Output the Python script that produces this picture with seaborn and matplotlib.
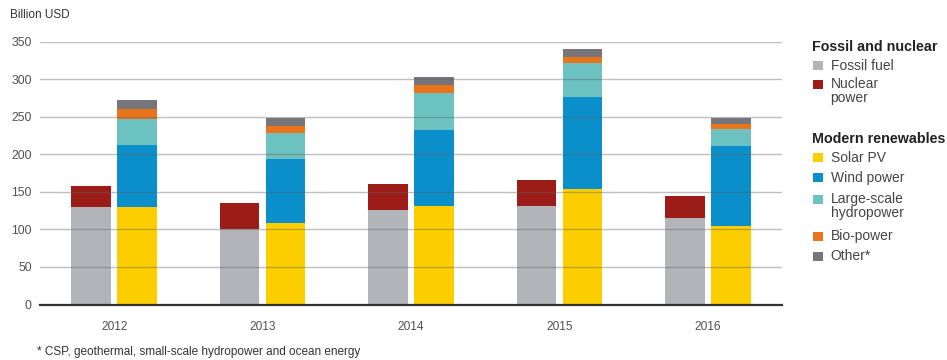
import numpy as np
import pandas as pd
import matplotlib
matplotlib.use("Agg")
import matplotlib.pyplot as plt
from matplotlib.patches import Rectangle
import seaborn as sns

years = ["2012", "2013", "2014", "2015", "2016"]
fossil_fuel = [130, 100, 126, 131, 115]
nuclear = [28, 35, 34, 35, 30]
solar_pv = [130, 109, 131, 154, 104]
wind = [83, 85, 102, 123, 107]
hydro = [34, 34, 49, 45, 23]
bio = [14, 10, 10, 7, 7]
other = [12, 10, 11, 11, 7]

groups = ["Fossil and nuclear", "Modern renewables"]
fossil_series = [("Fossil fuel", fossil_fuel, "#b2b4ba"), ("Nuclear\npower", nuclear, "#9c1c17")]
renew_series = [("Solar PV", solar_pv, "#fcce00"), ("Wind power", wind, "#0b8fca"),
                ("Large-scale\nhydropower", hydro, "#6cc2c0"), ("Bio-power", bio, "#e9741b"),
                ("Other*", other, "#76757b")]

sns.set_theme(style="white")
plt.rcParams['font.family'] = ['Liberation Sans', 'DejaVu Sans']

W, H = 947, 360
fig = plt.figure(figsize=(W / 100, H / 100), dpi=100)
ax = fig.add_axes([40 / W, (H - 304.5) / H, (782 - 40) / W, (304.5 - 41.7) / H])

def draw_group(series, group):
    cum = np.cumsum([s[1] for s in series], axis=0)
    # draw from top layer down so lower segments overwrite
    for (name, vals, col), top in reversed(list(zip(series, cum))):
        df = pd.DataFrame({"year": years, "value": top, "group": group})
        sns.barplot(data=df, x="year", y="value", hue="group", hue_order=groups,
                    order=years, palette={g: col for g in groups}, dodge=True,
                    width=0.62, gap=0.14, linewidth=0, saturation=1,
                    legend=False, ax=ax, errorbar=None)

draw_group(fossil_series, groups[0])
draw_group(renew_series, groups[1])

ax.set_ylim(0, 350)
ax.set_xlim(-0.5, 4.5)
ax.set_yticks(np.arange(0, 351, 50))
ax.set_xlabel("")
ax.set_ylabel("")
for sp in ["top", "right", "left"]:
    ax.spines[sp].set_visible(False)
ax.spines["bottom"].set_color("#333333")
ax.spines["bottom"].set_linewidth(1.6)
ax.spines["bottom"].set_zorder(5)
ax.grid(axis="y", color="#606060", alpha=0.4, linewidth=1.0)
ax.set_axisbelow(False)
ax.tick_params(axis="y", length=0, pad=6, labelsize=8.8, labelcolor="#505050")
ax.tick_params(axis="x", which="major", length=0, pad=12, labelsize=8.6, labelcolor="#505050")
ax.set_xticks([0.5, 1.5, 2.5, 3.5], minor=True)
ax.tick_params(axis="x", which="minor", length=5, width=0.8, color="#bbbbbb", direction="out")

txtcol = "#333333"
fig.text(10 / W, 1 - 15 / H, "Billion USD", fontsize=8.5, color=txtcol, va="center", ha="left")
fig.text(37 / W, 1 - 351.7 / H, "* CSP, geothermal, small-scale hydropower and ocean energy",
         fontsize=8.5, color=txtcol, va="center", ha="left")

# legend
LFS = 10.0
def header(y, text):
    fig.text(812 / W, 1 - y / H, text, fontsize=10.3, fontweight="bold", color="#222222",
             va="center", ha="left")

def item(y, text, col):
    fig.patches.append(Rectangle((813 / W, 1 - (y + 4.5) / H), 10 / W, 9 / H,
                                 transform=fig.transFigure, facecolor=col, edgecolor="none"))
    for i, line in enumerate(text.split("\n")):
        fig.text(830.5 / W, 1 - (y + i * 13.6) / H, line, fontsize=LFS, color="#444444",
                 va="center", ha="left")

header(46.7, "Fossil and nuclear")
item(65.7, fossil_series[0][0], fossil_series[0][2])
item(84, fossil_series[1][0], fossil_series[1][2])
header(139, "Modern renewables")
ys = [158, 177.7, 199.3, 236, 256]
for (name, vals, col), y in zip(renew_series, ys):
    item(y, name, col)

fig.savefig("out.png", dpi=100)
